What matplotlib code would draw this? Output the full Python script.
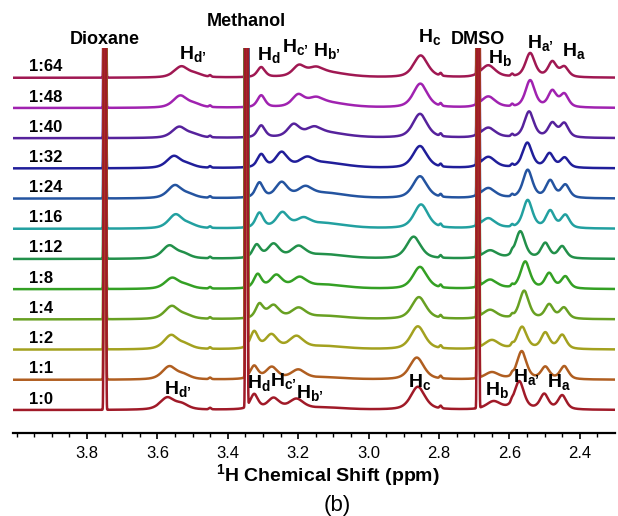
import matplotlib.pyplot as plt
import numpy as np

plt.rcParams['font.family'] = ['Liberation Sans', 'DejaVu Sans']
plt.rcParams['mathtext.fontset'] = 'custom'
plt.rcParams['mathtext.rm'] = 'Liberation Sans:bold'
plt.rcParams['mathtext.it'] = 'Liberation Sans:bold'
plt.rcParams['mathtext.bf'] = 'Liberation Sans:bold'

# traces, bottom to top
ratios = ['1:0', '1:1', '1:2', '1:4', '1:8', '1:12', '1:16', '1:24', '1:32', '1:40', '1:48', '1:64']
colors = ['#a01a28', '#b05e20', '#a3a11f', '#68a022', '#34a024', '#22904a',
          '#22a0a0', '#2454a0', '#201e9a', '#56229c', '#a022b0', '#a01852']

# solvent lines (ppm)
solvent_names = ['Dioxane', 'Methanol', 'DMSO']
solvent_ppm = [3.749, 3.347, 2.689]

# peak tables: one value per trace
hd1_ppm = [3.572, 3.566, 3.561, 3.559, 3.558, 3.566, 3.548, 3.550, 3.553, 3.538, 3.535, 3.532]
hd1_h = [12, 13, 14, 13, 11, 13, 14, 13, 12, 11, 12, 11]
hd1s_ppm = [3.530, 3.524, 3.519, 3.517, 3.516, 3.524, 3.506, 3.508, 3.511, 3.496, 3.493, 3.490]
hd1s_h = [5, 4, 4, 3, 3, 4, 3, 3, 3, 3, 3, 3]

hd_ppm = [3.325, 3.325, 3.325, 3.310, 3.315, 3.318, 3.310, 3.310, 3.305, 3.305, 3.305, 3.305]
hd_h = [15, 13, 17, 14, 14, 13, 15, 15, 13, 12, 12, 10]
hc1_ppm = [3.270, 3.275, 3.276, 3.270, 3.262, 3.270, 3.245, 3.247, 3.247, 3.213, 3.200, 3.198]
hc1_h = [11, 12, 14, 13, 13, 14, 15, 15, 15, 12, 11, 10]
hb1_ppm = [3.205, 3.200, 3.205, 3.199, 3.196, 3.199, 3.185, 3.180, 3.175, 3.155, 3.150, 3.150]
hb1_h = [10, 9, 12, 10, 10, 11, 8, 9, 8, 7, 6, 6]
tail_ppm = [3.12, 3.12, 3.12, 3.12, 3.12, 3.12, 3.12, 3.12, 3.12, 3.12, 3.12, 3.12]
tail_h = [2, 2, 3, 3, 4, 4, 5, 5, 5, 5, 5, 5]

hc_ppm = [2.860, 2.863, 2.860, 2.857, 2.854, 2.872, 2.851, 2.854, 2.854, 2.854, 2.853, 2.852]
hc_h = [23, 22, 23, 22, 22, 22, 24, 22, 22, 24, 24, 22]

hb_ppm = [2.645, 2.650, 2.650, 2.655, 2.655, 2.655, 2.660, 2.660, 2.660, 2.660, 2.660, 2.660]
hb_h = [8, 7, 9, 9, 9, 8, 10, 10, 11, 10, 11, 12]

ha1_ppm = [2.572, 2.565, 2.564, 2.558, 2.555, 2.569, 2.548, 2.548, 2.549, 2.544, 2.541, 2.541]
ha1_h = [28, 28, 22, 28, 27, 27, 28, 28, 25, 26, 27, 24]
haa_ppm = [2.501, 2.498, 2.498, 2.487, 2.487, 2.498, 2.484, 2.484, 2.486, 2.478, 2.478, 2.478]
haa_h = [15, 12, 16, 14, 15, 15, 17, 17, 14, 14, 16, 15]
hab_ppm = [2.450, 2.444, 2.450, 2.445, 2.441, 2.450, 2.441, 2.441, 2.443, 2.444, 2.444, 2.444]
hab_h = [14, 13, 14, 11, 12, 12, 13, 13, 10, 14, 13, 10]

blip_ppm = [3.45, 2.795, 2.592]
blip_h = [1.5, 2.5, 2]

# (positions, heights, half width in ppm)
peaks = [
    (hd1_ppm, hd1_h, 0.024), (hd1s_ppm, hd1s_h, 0.022),
    (hd_ppm, hd_h, 0.013), (hc1_ppm, hc1_h, 0.02), (hb1_ppm, hb1_h, 0.024),
    (tail_ppm, tail_h, 0.07), (hc_ppm, hc_h, 0.024), (hb_ppm, hb_h, 0.024),
    (ha1_ppm, ha1_h, 0.016), (haa_ppm, haa_h, 0.014), (hab_ppm, hab_h, 0.014),
]


def pvoigt(x, x0, h, w, eta=0.55):
    d = (x - x0) / w
    return h * (eta / (1 + d**2) + (1 - eta) * np.exp(-np.log(2) * d**2))


def gauss(x, x0, h, s):
    return h * np.exp(-0.5 * ((x - x0) / s)**2)


ppm = np.linspace(2.28, 4.03, 6000)

fig = plt.figure(figsize=(6.18, 5.16), dpi=100)
ax = fig.add_axes([13 / 618, 1 - 433 / 516, 602 / 618, 385 / 516])

step = 30.2
for i in reversed(range(len(ratios))):
    y = np.zeros_like(ppm)
    for pos, h, w in peaks:
        y += pvoigt(ppm, pos[i], h[i], w)
    for p, h in zip(blip_ppm, blip_h):
        y += gauss(ppm, p, h, 0.003)
    for p in solvent_ppm:
        y += gauss(ppm, p, 8000, 0.0015)
    base = 23 + step * i
    ax.plot(ppm, y + base, color=colors[i], lw=1.8, zorder=20 - i)
    ax.text(3.965, base + 11, ratios[i], fontsize=12, fontweight='bold',
            ha='left', va='center')

ax.set_xlim(4.01, 2.30)
ax.set_ylim(0, 385)
for s in ['top', 'left', 'right']:
    ax.spines[s].set_visible(False)
ax.spines['bottom'].set_linewidth(1.6)
ax.set_yticks([])
ax.set_xticks(np.arange(2.4, 3.81, 0.2))
ax.set_xticklabels(['2.4', '2.6', '2.8', '3.0', '3.2', '3.4', '3.6', '3.8'])
ax.set_xticks(np.arange(2.35, 4.01, 0.05), minor=True)
ax.tick_params(axis='x', which='major', direction='out', length=4, width=1.2,
               labelsize=12, pad=5)
ax.tick_params(axis='x', which='minor', direction='out', length=3, width=1.0)

# solvent names
for name, p, yy in zip(solvent_names, solvent_ppm, [394, 411, 394]):
    ax.text(p, yy, name, fontsize=13, fontweight='bold', ha='center',
            va='center', clip_on=False)

# proton labels (top and bottom traces)
def hlabel(x, y, sub):
    ax.text(x, y, 'H$_{\\mathrm{' + sub + '}}$', fontsize=14, fontweight='bold',
            ha='left', va='baseline', clip_on=False, zorder=30)

top_labels = [(3.538, 374, 'd’'), (3.316, 373, 'd'), (3.247, 381, 'c’'),
              (3.159, 377, 'b’'), (2.860, 391, 'c'), (2.660, 370, 'b'),
              (2.549, 385, 'a’'), (2.450, 377, 'a')]
bottom_labels = [(3.581, 39, 'd’'), (3.344, 45, 'd'), (3.281, 47, 'c’'),
                 (3.205, 35, 'b’'), (2.888, 46, 'c'), (2.669, 38, 'b'),
                 (2.589, 51, 'a’'), (2.492, 46, 'a')]
for x, y, sub in top_labels + bottom_labels:
    hlabel(x, y, sub)

fig.text(328 / 618, 1 - 475 / 516, '$^{1}$H Chemical Shift (ppm)', fontsize=14,
         fontweight='bold', ha='center', va='center')
fig.text(337 / 618, 1 - 505 / 516, '(b)', fontsize=16, ha='center', va='center')

fig.savefig('out.png', dpi=100)
